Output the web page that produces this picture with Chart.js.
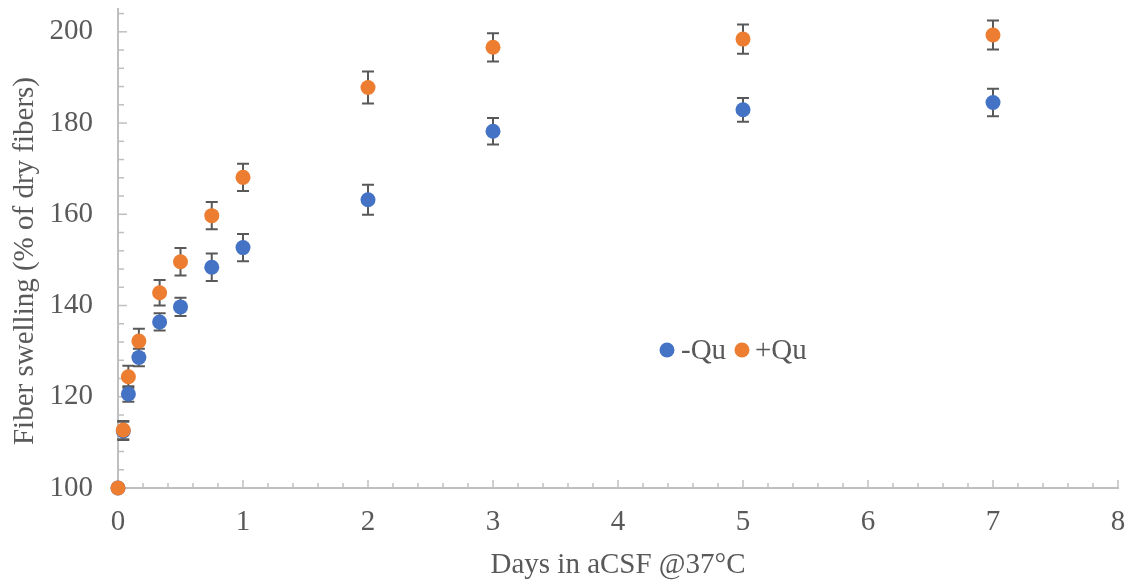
<!DOCTYPE html>
<html>
<head>
<meta charset="utf-8">
<script src="https://cdn.jsdelivr.net/npm/chart.js@4"></script>
<style>
html,body{margin:0;padding:0;background:#fff;}
#wrap{width:1129px;height:581px;}
</style>
</head>
<body>
<div id="wrap"><canvas id="swellChart"></canvas></div>
<script>

// DATA
const days = [0, 0.042, 0.083, 0.167, 0.333, 0.5, 0.75, 1, 2, 3, 5, 7];

const minusQu = [100, 112.5, 120.6, 128.6, 136.4, 139.7, 148.4, 152.7, 163.2, 178.2, 182.9, 184.5];
const minusQuErr = [0, 2, 1.7, 1.9, 1.9, 2, 3, 3, 3.3, 2.9, 2.6, 3];

const plusQu = [100, 112.7, 124.4, 132.2, 142.8, 149.6, 159.7, 168.1, 187.8, 196.6, 198.4, 199.3];
const plusQuErr = [0, 2, 2.4, 2.7, 2.8, 3, 3, 3, 3.5, 3.1, 3.2, 3.2];

const xTicks = [0, 1, 2, 3, 4, 5, 6, 7, 8];
const yTicks = [100, 120, 140, 160, 180, 200];

const yTitle = "Fiber swelling (% of dry fibers)";
const xTitle = "Days in aCSF @37°C";

const FONT = "'Liberation Serif', 'Times New Roman', serif";
const AXIS = "#bfbfbf";
const TEXT = "#595959";

function pts(vals){
return days.map((d,i)=>({x:d, y:vals[i]}));
}

// ERROR BARS, INSIDE TICKS, LEGEND
const extras = {
id: "extras",
beforeDatasetsDraw(chart){
const ctx = chart.ctx;
const xs = chart.scales.x;
const ys = chart.scales.y;
ctx.save();
ctx.strokeStyle = "#595959";
ctx.lineWidth = 2;
chart.data.datasets.forEach(ds=>{
ds.errors.forEach((e,i)=>{
if(!e) return;
const px = xs.getPixelForValue(days[i]);
const top = ys.getPixelForValue(ds.data[i].y + e);
const bot = ys.getPixelForValue(ds.data[i].y - e);
ctx.beginPath();
ctx.moveTo(px, top); ctx.lineTo(px, bot);
ctx.moveTo(px-6, top); ctx.lineTo(px+6, top);
ctx.moveTo(px-6, bot); ctx.lineTo(px+6, bot);
ctx.stroke();
});
});
ctx.restore();
},
beforeDraw(chart){
const ctx = chart.ctx;
const xs = chart.scales.x;
const ys = chart.scales.y;
const a = chart.chartArea;
ctx.save();
ctx.strokeStyle = AXIS;
ctx.lineWidth = 1.5;
// x ticks every 0.2
for(let k=0;k<=40;k++){
const px = xs.getPixelForValue(k*0.2);
const len = (k%5===0) ? 8 : 5;
ctx.beginPath();
ctx.moveTo(px, a.bottom); ctx.lineTo(px, a.bottom-len);
ctx.stroke();
}
// y ticks every 4
for(let v=100; v<=204; v+=4){
const py = ys.getPixelForValue(v);
const len = (v%20===0) ? 9 : 6;
ctx.beginPath();
ctx.moveTo(a.left, py); ctx.lineTo(a.left+len, py);
ctx.stroke();
}
// y title
ctx.fillStyle = TEXT;
ctx.font = "29px " + FONT;
ctx.textAlign = "center";
ctx.textBaseline = "alphabetic";
ctx.translate(33, 261);
ctx.rotate(-Math.PI/2);
ctx.fillText(yTitle, 0, 0);
ctx.restore();
},
afterDraw(chart){
const ctx = chart.ctx;
ctx.save();
const lx = 667, ly = 350;
ctx.font = "29px " + FONT;
ctx.textBaseline = "middle";
ctx.fillStyle = "#4472C4";
ctx.beginPath(); ctx.arc(lx, ly, 7.5, 0, Math.PI*2); ctx.fill();
ctx.fillStyle = TEXT;
ctx.fillText(chart.data.datasets[0].label, lx+14, ly+1);
ctx.fillStyle = "#ED7D31";
ctx.beginPath(); ctx.arc(lx+75, ly, 7.5, 0, Math.PI*2); ctx.fill();
ctx.fillStyle = TEXT;
ctx.fillText(chart.data.datasets[1].label, lx+88, ly+1);
ctx.restore();
}
};

const chart = new Chart(document.getElementById("swellChart"), {
type: "scatter",
data: {
datasets: [
{
label: "-Qu",
data: pts(minusQu),
errors: minusQuErr,
backgroundColor: "#4472C4",
borderColor: "#4472C4",
pointRadius: 7.5,
borderWidth: 0,
clip: false,
order: 2
},
{
label: "+Qu",
data: pts(plusQu),
errors: plusQuErr,
backgroundColor: "#ED7D31",
borderColor: "#ED7D31",
pointRadius: 7.5,
borderWidth: 0,
clip: false,
order: 1
}
]
},
options: {
responsive: true,
maintainAspectRatio: false,
animation: false,
layout: {padding: {left: 0, right: 11, top: 9, bottom: 0}},
plugins: {
legend: {display: false},
tooltip: {enabled: false}
},
scales: {
x: {
type: "linear",
min: 0,
max: 8,
afterBuildTicks: s => { s.ticks = xTicks.map(v=>({value:v})); },
afterFit: s => { s.height = 93; },
grid: {display: true, drawOnChartArea: false, drawTicks: true, tickLength: 17, color: "rgba(0,0,0,0)"},
border: {display: true, color: AXIS, width: 2},
ticks: {color: TEXT, font: {family: FONT, size: 29}, padding: 0},
title: {display: true, text: xTitle, color: TEXT, font: {family: FONT, size: 29}, padding: {top: 0, bottom: -2}}
},
y: {
min: 100,
max: 205,
afterBuildTicks: s => { s.ticks = yTicks.map(v=>({value:v})); },
afterFit: s => { s.width = 118; },
grid: {display: true, drawOnChartArea: false, drawTicks: true, tickLength: 25, color: "rgba(0,0,0,0)"},
border: {display: true, color: AXIS, width: 2},
ticks: {color: TEXT, font: {family: FONT, size: 29, lineHeight: 0.6}, padding: 0},
title: {display: false}
}
}
},
plugins: [extras]
});

</script>
</body>
</html>
